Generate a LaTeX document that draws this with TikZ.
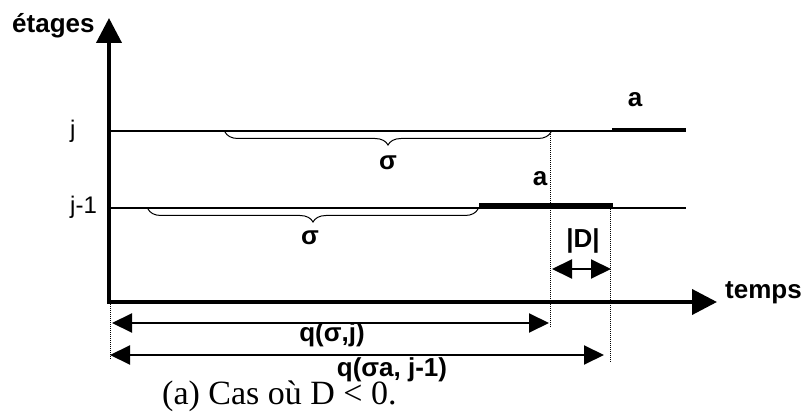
\documentclass[tikz,border=0pt]{standalone}
\usepackage{fontspec}
\setmainfont{Liberation Serif}
\setsansfont{Liberation Sans}
\usetikzlibrary{arrows.meta,decorations.pathreplacing}

\tikzset{
  lbl/.style={font=\sffamily\bfseries\fontsize{26}{26}\selectfont,inner sep=0pt},
  lvl/.style={font=\sffamily\fontsize{24}{24}\selectfont,inner sep=0pt},
  axis/.style={line width=4pt,{Triangle[length=25pt,width=25pt]}-{Triangle[length=25pt,width=25pt]}},
  dimarrow/.style={line width=2pt,{Triangle[length=20pt,width=19pt]}-{Triangle[length=20pt,width=19pt]}},
  level/.style={line width=1.5pt},
  job/.style={line width=3.5pt},
  guide/.style={line width=1pt,dash pattern=on 1pt off 1pt},
  sigbrace/.style={decorate,decoration={brace,mirror,amplitude=13pt},line width=1pt},
}

\begin{document}
\begin{tikzpicture}[x=1pt,y=-1pt]
    \useasboundingbox (0,0) rectangle (807,414);

    % axes
    \coordinate (orig) at (109,302);
    \coordinate (top) at (109,18);
    \coordinate (right) at (717,302);
    \draw[axis] (top) -- (orig) -- (right);
    \node[lbl,anchor=base west] (etages) at (12,33) {étages};
    \node[lbl,anchor=base west] (temps) at (725,299) {temps};

    % etages j et j-1
    \coordinate (jl) at (109,131);
    \coordinate (jr) at (686,131);
    \coordinate (kl) at (109,208);
    \coordinate (kr) at (686,208);
    \draw[level] (jl) -- (jr);
    \draw[level] (kl) -- (kr);
    \node[lvl,anchor=base west] (j) at (70,138) {j};
    \node[lvl,anchor=base west] (jm) at (70,214) {j-1};

    % la tache a
    \coordinate (aj1) at (612,129.5);
    \coordinate (aj2) at (686,129.5);
    \coordinate (ak1) at (479,205);
    \coordinate (ak2) at (613,205);
    \draw[job] (aj1) -- (aj2);
    \draw[job] (ak1) -- (ak2);
    \node[lbl,anchor=base] (aj) at (635,107) {a};
    \node[lbl,anchor=base] (ak) at (540,186) {a};

    % sigma
    \coordinate (sj1) at (225,132);
    \coordinate (sj2) at (551,132);
    \coordinate (sk1) at (148,209);
    \coordinate (sk2) at (478,209);
    \draw[sigbrace] (sj1) -- (sj2);
    \draw[sigbrace] (sk1) -- (sk2);
    \node[lbl,anchor=base] (sigj) at (388,170) {σ};
    \node[lbl,anchor=base] (sigk) at (310,245) {σ};

    % reperes
    \coordinate (d0a) at (110,302);
    \coordinate (d0b) at (110,360);
    \coordinate (d1a) at (550,132);
    \coordinate (d1b) at (550,328);
    \coordinate (d2a) at (610,205);
    \coordinate (d2b) at (610,362);
    \draw[guide] (d0a) -- (d0b);
    \draw[guide] (d1a) -- (d1b);
    \draw[guide] (d2a) -- (d2b);

    % longueurs
    \coordinate (q1a) at (112,323);
    \coordinate (q1b) at (549,323);
    \coordinate (q2a) at (110,355);
    \coordinate (q2b) at (604,355);
    \coordinate (da) at (552,269);
    \coordinate (db) at (611,269);
    \draw[dimarrow] (q1a) -- (q1b);
    \draw[dimarrow] (q2a) -- (q2b);
    \draw[dimarrow] (da) -- (db);
    \node[lbl,anchor=base] (q1) at (332,342) {q(σ,j)};
    \node[lbl,anchor=base] (q2) at (392,377) {q(σa, j-1)};
    \node[lbl,anchor=base] (dd) at (583,248) {|D|};

    \node[font=\fontsize{34}{34}\selectfont,inner sep=0pt,anchor=base west] (cap) at (162,405) {(a) Cas où D < 0.};
\end{tikzpicture}
\end{document}
